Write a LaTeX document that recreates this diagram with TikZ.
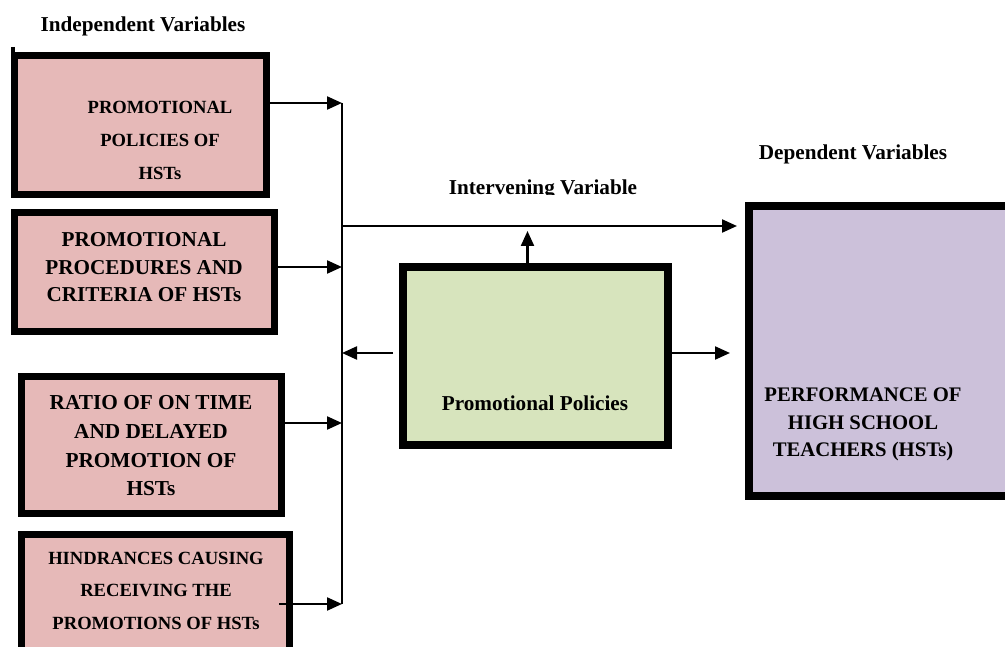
\documentclass[tikz,border=0pt]{standalone}
\usepackage{fontspec}
\setmainfont{Liberation Serif}
\usetikzlibrary{arrows.meta}
\definecolor{pinkbox}{HTML}{E6B9B8}
\definecolor{greenbox}{HTML}{D7E4BD}
\definecolor{purplebox}{HTML}{CCC1DA}
\tikzset{
  ivbox/.style={draw, line width=7, fill=pinkbox, inner sep=0},
  midbox/.style={draw, line width=8, fill=greenbox, inner sep=0},
  depbox/.style={draw, line width=8, fill=purplebox, inner sep=0},
  txt/.style 2 args={font=\bfseries\fontsize{#1}{#2}\selectfont, align=center, inner sep=0},
  arr/.style={line width=2.2, -{Triangle[length=15,width=13]}}
}
\begin{document}
\begin{tikzpicture}[x=1pt,y=-1pt]
\useasboundingbox (0,0) rectangle (1005,647);
\node[txt={21.2}{25}] (indep) at (143,26) {Independent Variables};
\node[txt={21.2}{25}] (dep) at (853,154) {Dependent Variables};
\begin{scope}
\clip (400,170) rectangle (700,195);
\node[txt={21.2}{25}] (interv) at (543,189) {Intervening Variable};
\end{scope}
% independent boxes
\draw [line width=4](13,47) -- (13,56);
\node[ivbox, minimum width=252, minimum height=139] (b1) at (140.5,125) {};
\node[ivbox, minimum width=260, minimum height=119] (b2) at (144.5,272) {};
\node[ivbox, minimum width=260, minimum height=137] (b3) at (151.5,445) {};
\node[ivbox, minimum width=268, minimum height=152] (b4) at (155.5,610.5) {};
\node[txt={18.6}{33}] (t1) at (160,140.5) {PROMOTIONAL\\POLICIES OF\\HSTs};
\node[txt={21.2}{27.5}] (t2) at (144,267.5) {PROMOTIONAL\\PROCEDURES AND\\CRITERIA OF HSTs};
\node[txt={21.3}{28.7}] (t3) at (151,446) {RATIO OF ON TIME\\AND DELAYED\\PROMOTION OF\\HSTs};
\node[txt={18.6}{32.5}] (t4) at (156,590.5) {HINDRANCES CAUSING\\RECEIVING THE\\PROMOTIONS OF HSTs};
% intervening and dependent boxes
\node[midbox, minimum width=265, minimum height=178] (pp) at (535.5,356) {};
\node[txt={21.2}{25}] (tpp) at (535,403) {Promotional Policies};
\node[depbox, minimum width=287, minimum height=290] (perf) at (892.5,351) {};
\node[txt={20.7}{27.5}] (tperf) at (863,424.5) {PERFORMANCE OF\\HIGH SCHOOL\\TEACHERS (HSTs)};
% bus line
\coordinate (bus1) at (342,103);
\coordinate (bus2) at (342,267);
\coordinate (bus3) at (342,423);
\coordinate (bus4) at (342,604);
\coordinate (bustop) at (342,226);
\coordinate (busmid) at (342,353);
\draw [line width=2](bus1) -- (bus4);
\draw [arr](b1.east |- bus1) -- (bus1);
\draw [arr](b2.east |- bus2) -- (bus2);
\draw [arr]([xshift=-7]b3.east |- bus3) -- (bus3);
\draw [arr]([xshift=-14]b4.east |- bus4) -- (bus4);
\draw [arr](bustop) -- ([xshift=-8]perf.west |- bustop);
\draw [arr]([xshift=-6]pp.west |- busmid) -- (busmid);
\draw [arr](pp.east |- busmid) -- ([xshift=-15]perf.west |- busmid);
\draw [arr]([xshift=-8]pp.north) -- ([xshift=-8]pp.north |- 0,231);
\end{tikzpicture}
\end{document}
